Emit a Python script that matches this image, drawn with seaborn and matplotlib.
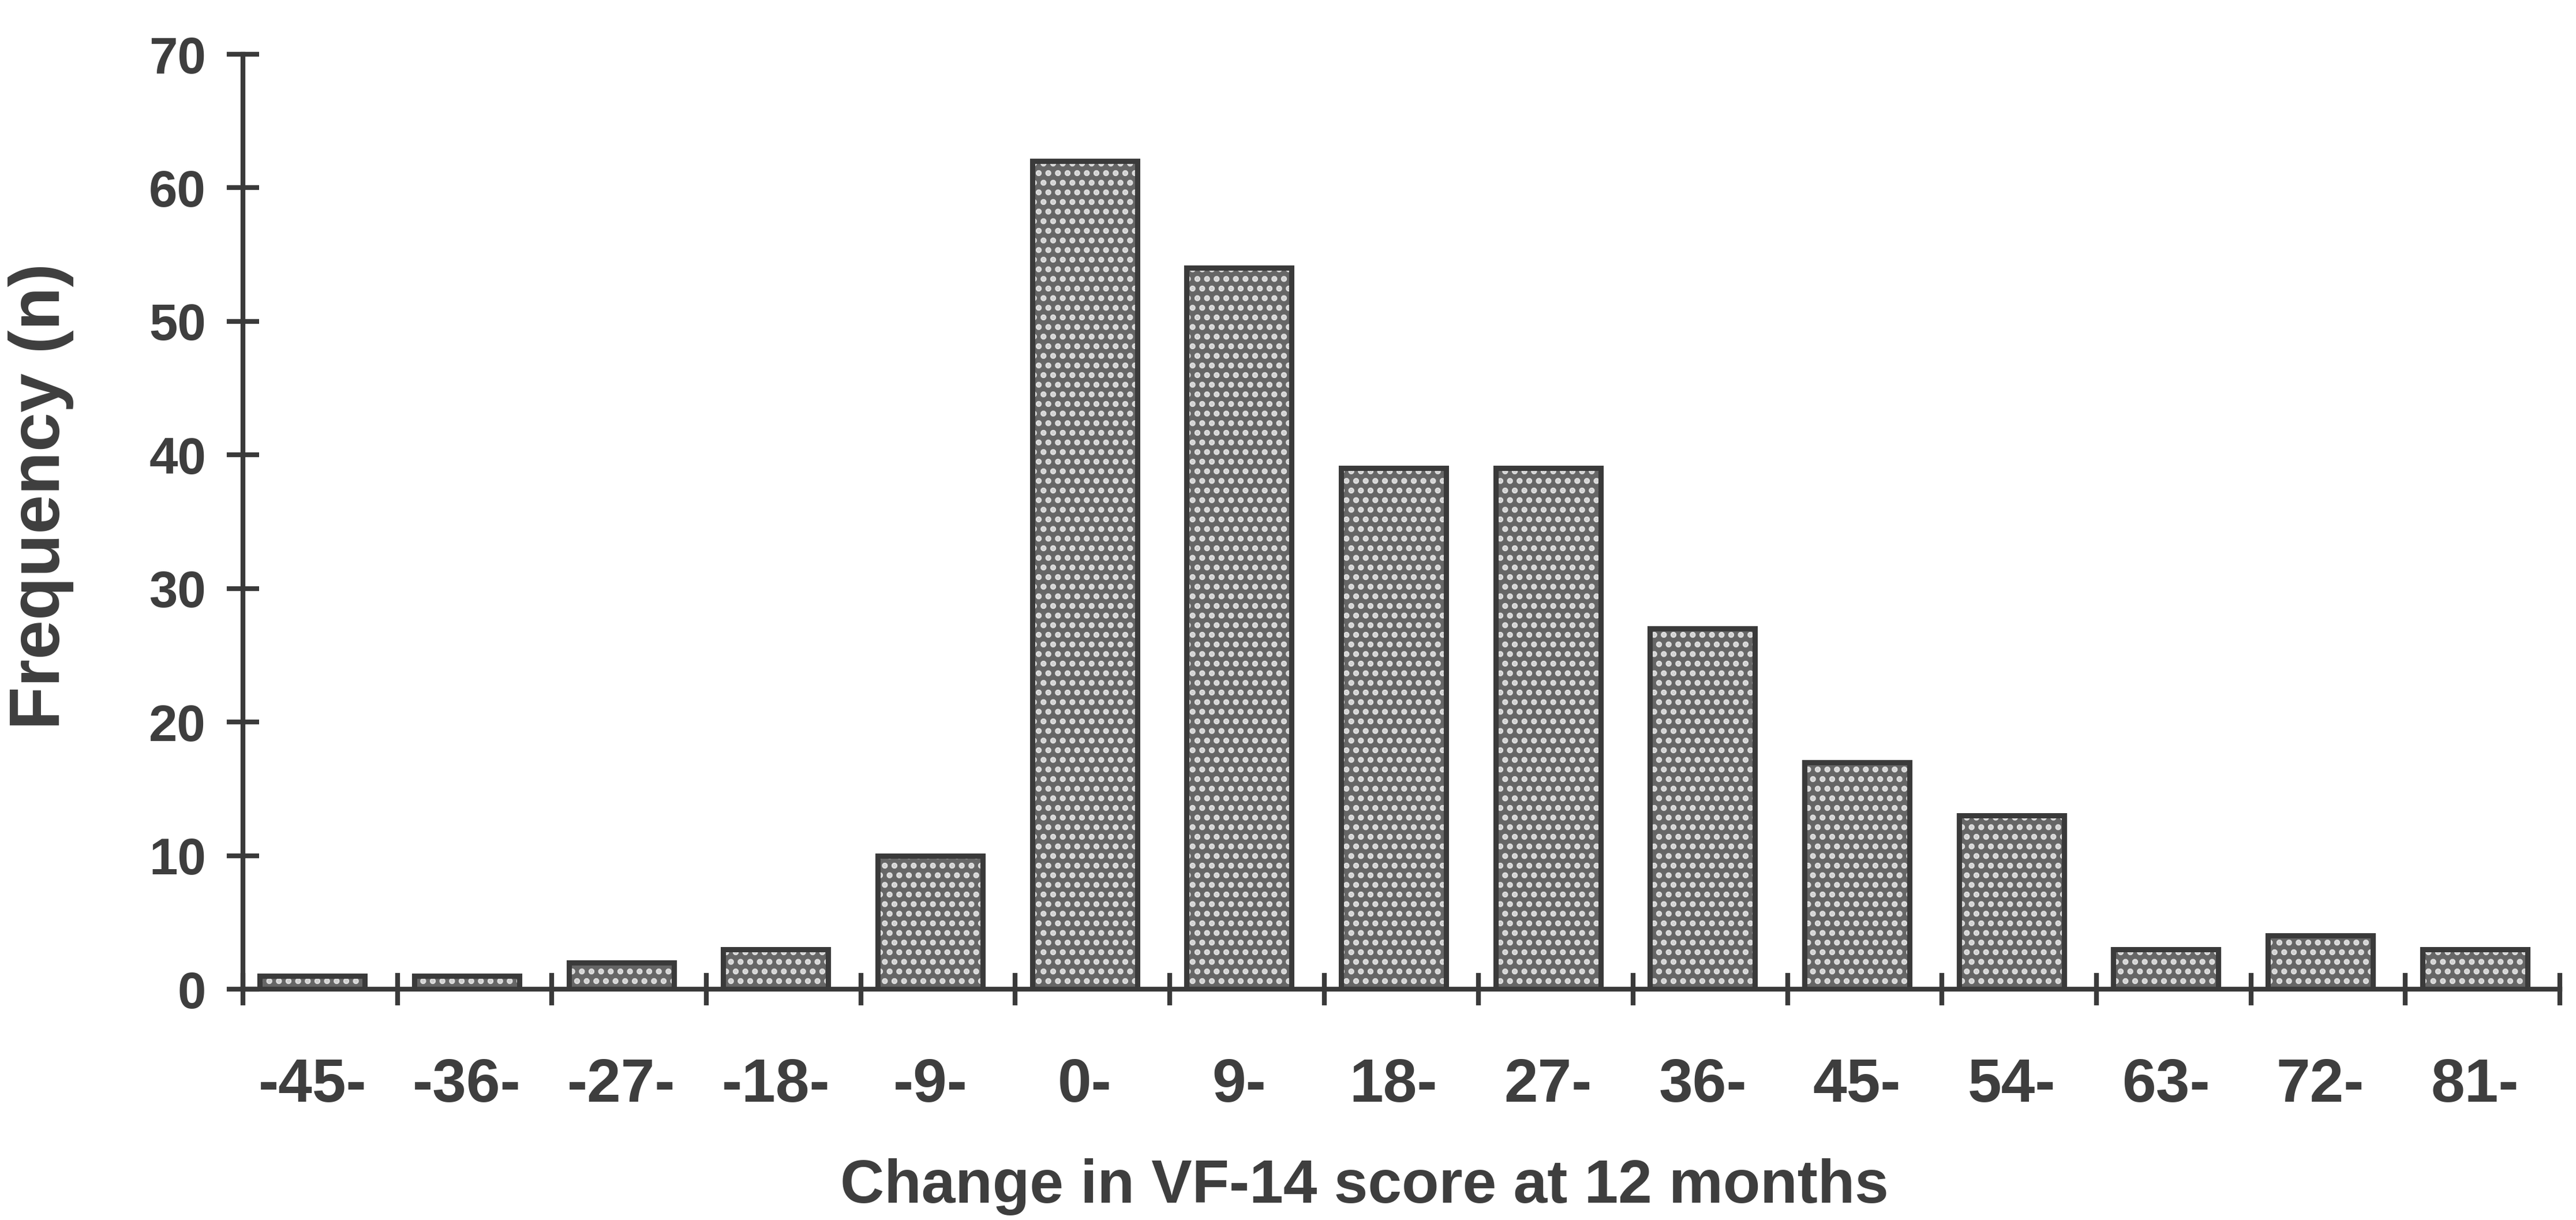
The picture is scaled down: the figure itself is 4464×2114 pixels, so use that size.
import matplotlib
matplotlib.use("Agg")
import matplotlib.pyplot as plt
import seaborn as sns
import pandas as pd
from matplotlib.ticker import FixedLocator

categories = ["-45-", "-36-", "-27-", "-18-", "-9-", "0-", "9-", "18-", "27-",
              "36-", "45-", "54-", "63-", "72-", "81-"]
frequency = [1, 1, 2, 3, 10, 62, 54, 39, 39, 27, 17, 13, 3, 4, 3]
y_ticks = [0, 10, 20, 30, 40, 50, 60, 70]

df = pd.DataFrame({"bin": categories, "n": frequency})

sns.set_theme(style="white")
plt.rcParams["font.family"] = ["Liberation Sans", "DejaVu Sans"]
plt.rcParams["hatch.linewidth"] = 5.0

fig = plt.figure(figsize=(44.64, 21.14), dpi=100)
ax = fig.add_axes([0.0943, 0.1892, 0.8994, 0.7663])

text_c = "#3e3e3e"
line_c = "#3a3a3a"

# filled, dotted layer
sns.barplot(data=df, x="bin", y="n", order=categories, color="#666666",
            width=0.68, ax=ax, saturation=1, linewidth=0)
for p in ax.patches:
    p.set_hatch(".")
    p.set_edgecolor("#dcdcdc")
    p.set_linewidth(0)
# outline layer
sns.barplot(data=df, x="bin", y="n", order=categories, fill=False,
            width=0.68, ax=ax, linewidth=6.5, edgecolor=line_c)

offset = 0.05
ax.set_xlim(-0.5 + offset, 14.5 + offset)
ax.set_ylim(0, 70)
ax.set_yticks(y_ticks)
ax.set_yticklabels([str(v) for v in y_ticks])

# x ticks at category boundaries, labels at centers
ax.xaxis.set_major_locator(FixedLocator([i - 0.5 + offset for i in range(16)]))
ax.xaxis.set_minor_locator(FixedLocator(list(range(15))))
ax.set_xticklabels([""] * 16)
ax.set_xticklabels(categories, minor=True)

for s in ["top", "right"]:
    ax.spines[s].set_visible(False)
for s in ["left", "bottom"]:
    ax.spines[s].set_linewidth(6)
    ax.spines[s].set_color(line_c)

ax.tick_params(axis="y", which="major", direction="inout", length=40, width=6,
               color=line_c, labelsize=64, labelcolor=text_c, pad=26, left=True)
ax.tick_params(axis="x", which="major", direction="inout", length=40, width=6,
               color=line_c, bottom=True)
ax.tick_params(axis="x", which="minor", length=0, labelsize=76,
               labelcolor=text_c, pad=85, bottom=True)
for lab in ax.get_yticklabels() + ax.get_xticklabels(minor=True):
    lab.set_fontweight("bold")

ax.set_xlabel("Change in VF-14 score at 12 months", fontsize=76,
              fontweight="bold", color=text_c)
ax.set_ylabel("Frequency (n)", fontsize=88, fontweight="bold", color=text_c)
ax.xaxis.set_label_coords(0.484, -0.181)
ax.yaxis.set_label_coords(-0.073, 0.527)
ax.grid(False)

fig.savefig("out.png", dpi=100, facecolor="white")
